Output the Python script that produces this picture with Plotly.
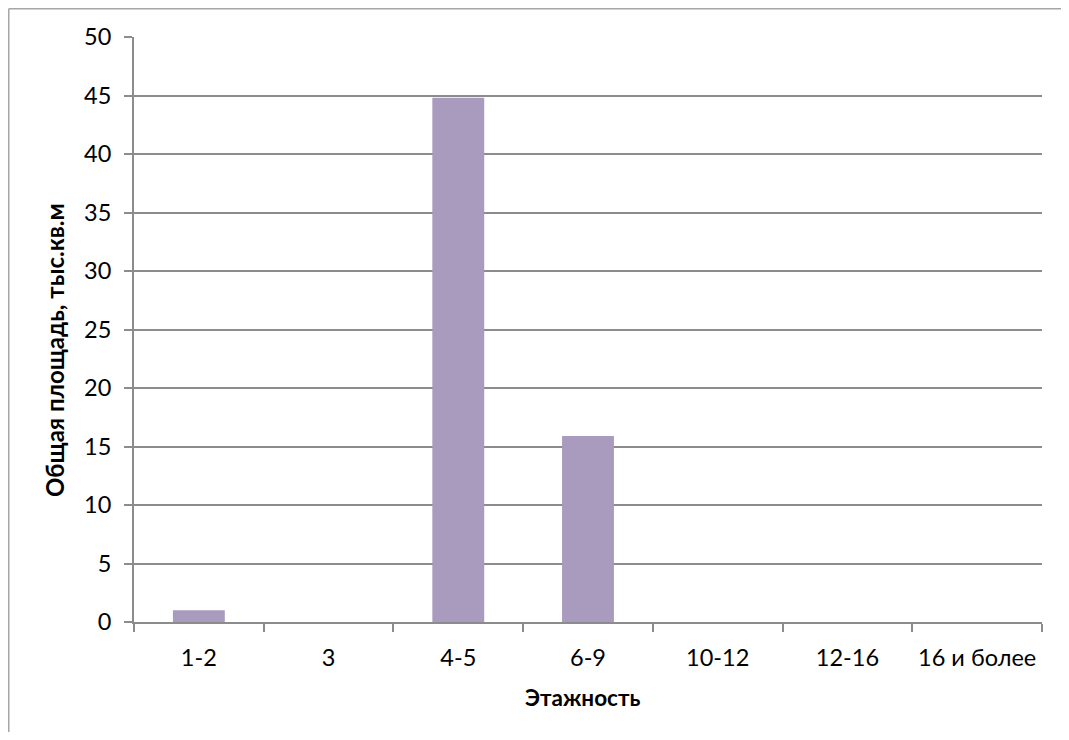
import plotly.graph_objects as go

categories = ["1-2", "3", "4-5", "6-9", "10-12", "12-16", "16 и более"]
values = [1.0, 0, 44.8, 15.9, 0, 0, 0]
y_ticks = [0, 5, 10, 15, 20, 25, 30, 35, 40, 45, 50]
x_title = "Этажность"
y_title = "Общая площадь, тыс.кв.м"

OFF = 8  # default page body margin (on every side)
W, H = 1069 - 2 * OFF, 740 - 2 * OFF
PLOT_L, PLOT_R, PLOT_T, PLOT_B = 134, 1042, 37, 622  # page px of the plot area
L, T = PLOT_L - OFF, PLOT_T - OFF
R, B = W - (PLOT_R - OFF), H - (PLOT_B - OFF)
pw, ph = W - L - R, H - T - B

fig = go.Figure(go.Bar(
    x=categories, y=values,
    marker=dict(color="#A99BBD", line=dict(width=0)),
    width=0.4,
))

grid = "#8C8C8C"
fig.update_layout(
    width=W, height=H,
    margin=dict(l=L, r=R, t=T, b=B, autoexpand=False),
    paper_bgcolor="white", plot_bgcolor="white",
    showlegend=False,
    font=dict(family="Lato, Open Sans, sans-serif", size=16, color="black"),
    xaxis=dict(
        type="category", categoryorder="array", categoryarray=categories,
        range=[-0.5, len(categories) - 0.5],
        showline=True, linecolor=grid, linewidth=2,
        ticks="outside", tickson="boundaries", ticklen=8, tickcolor=grid, tickwidth=2,
        showgrid=False,
        tickfont=dict(size=23.5),
        ticklabelstandoff=14,
    ),
    yaxis=dict(
        range=[0, 50], tickvals=y_ticks,
        showline=True, linecolor=grid, linewidth=2,
        ticks="outside", ticklen=8, tickcolor=grid, tickwidth=2,
        showgrid=True, gridcolor=grid, gridwidth=1.5,
        zeroline=False,
        tickfont=dict(size=23.5),
        ticklabelstandoff=8,
    ),
    bargap=0.6,
)

# axis titles (page px -> paper coords)
def px_x(p):
    return (p - OFF - L) / pw

def px_y(p):
    return (H - B - (p - OFF)) / ph

fig.add_annotation(text="<b>" + x_title + "</b>", xref="paper", yref="paper",
                   x=px_x(582), y=px_y(697), xanchor="center", yanchor="middle",
                   showarrow=False, font=dict(size=22.5))
fig.add_annotation(text="<b>" + y_title + "</b>", xref="paper", yref="paper",
                   x=px_x(54), y=px_y(350), xanchor="center", yanchor="middle",
                   textangle=-90, showarrow=False, font=dict(size=24))

# outer chart frame: only its left and top edges are visible
frame = dict(color="#A6A6A6", width=1.5)
fig.add_shape(type="line", xref="paper", yref="paper",
              x0=px_x(8.75), x1=px_x(8.75), y0=px_y(8.75), y1=px_y(740),
              line=frame, layer="below")
fig.add_shape(type="line", xref="paper", yref="paper",
              x0=px_x(8.75), x1=px_x(1069), y0=px_y(8.75), y1=px_y(8.75),
              line=frame, layer="below")

fig.write_html("out.html")
